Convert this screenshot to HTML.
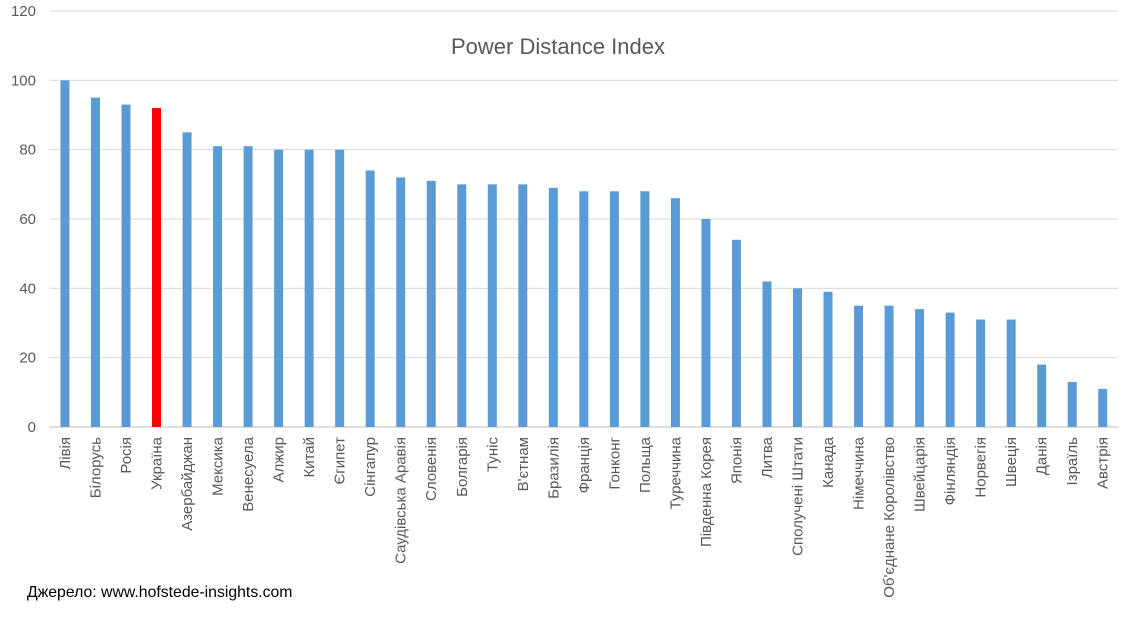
<!DOCTYPE html>
<html><head><meta charset="utf-8"><style>
body{margin:0;background:#fff;}
svg{display:block;font-family:"Liberation Sans","DejaVu Sans",sans-serif;}
</style></head><body>
<svg id="chart" width="1135" height="627">
<text x="558" y="54" text-anchor="middle" font-size="22" fill="#595959">Power Distance Index</text>
<g id="grid"></g><g id="bars"></g><g id="xlabels"></g>
<text x="27" y="597" font-size="15.8" fill="#000">Джерело: www.hofstede-insights.com</text>
</svg>
<script>
const categories=["Лівія","Білорусь","Росія","Україна","Азербайджан","Мексика","Венесуела","Алжир","Китай","Єгипет","Сінгапур","Саудівська Аравія","Словенія","Болгарія","Туніс","В'єтнам","Бразилія","Франція","Гонконг","Польща","Туреччина","Південна Корея","Японія","Литва","Сполучені Штати","Канада","Німеччина","Об'єднане Королівство","Швейцарія","Фінляндія","Норвегія","Швеція","Данія","Ізраїль","Австрія"];
const values=[100,95,93,92,85,81,81,80,80,80,74,72,71,70,70,70,69,68,68,68,66,60,54,42,40,39,35,35,34,33,31,31,18,13,11];
const yTicks=[0,20,40,60,80,100,120];
const highlight="Україна";
const NS="http://www.w3.org/2000/svg";
const L=49.7,R=1118,T=11,B=427,yMax=120;
const y=v=>B-(v/yMax)*(B-T);
const step=(R-L)/categories.length;
const x=i=>L+step*(i+0.5);
const g=document.getElementById('grid'),bg=document.getElementById('bars'),xl=document.getElementById('xlabels');
function mk(t,a){const e=document.createElementNS(NS,t);for(const k in a)e.setAttribute(k,a[k]);return e;}
yTicks.forEach(t=>{
 const ln=mk('line',{x1:L,x2:R,y1:y(t),y2:y(t),stroke:t===0?'#bfbfbf':'#d9d9d9','stroke-width':1});
 
 
 g.appendChild(ln);
 const tx=mk('text',{x:36,y:y(t)+5,'text-anchor':'end','font-size':15,fill:'#595959'});
 tx.textContent=t;
 
 
 g.appendChild(tx);
});
categories.forEach((c,i)=>{
 const w=9;
 const r=mk('rect',{x:x(i)-w/2,y:y(values[i]),width:w,height:B-y(values[i]),fill:c===highlight?'#ff0000':'#5b9bd5'});
 
 
 bg.appendChild(r);
 const tx=mk('text',{transform:`translate(${x(i)+5},437) rotate(-90)`,'text-anchor':'end','font-size':15,fill:'#595959'});
 tx.textContent=c;
 
 
 xl.appendChild(tx);
});
</script>
</body></html>
